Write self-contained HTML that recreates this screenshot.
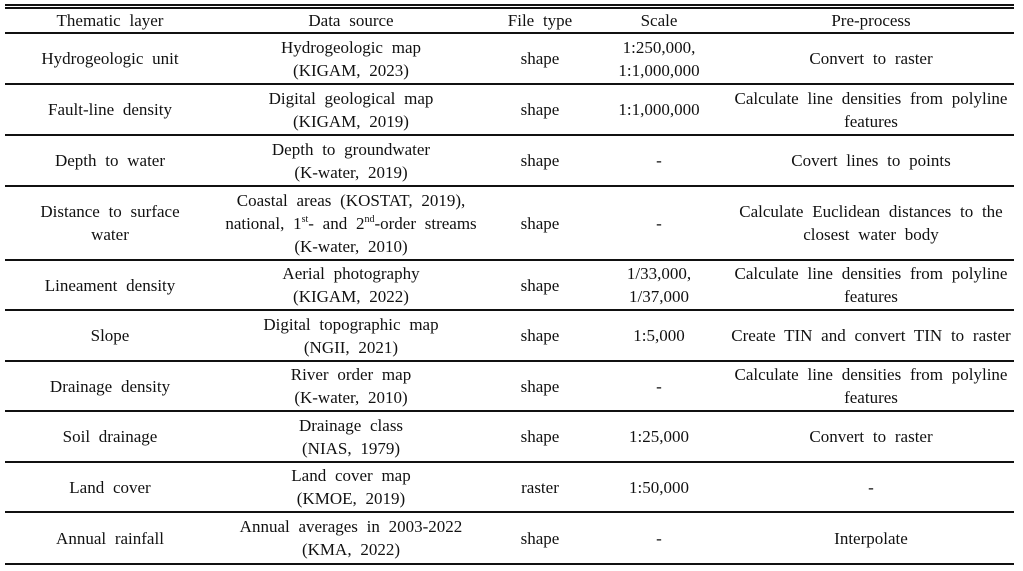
<!DOCTYPE html>
<html><head><meta charset="utf-8"><style>
body{margin:0;width:1023px;height:571px;background:#fff;position:relative;overflow:hidden;font-family:"Liberation Serif",serif;font-size:17px;color:#111;}
.l{position:absolute;left:5px;width:1009px;background:#111;}
.c{position:absolute;display:flex;align-items:center;justify-content:center;text-align:center;line-height:23px;word-spacing:4.5px;white-space:nowrap;}
sup{font-size:10px;line-height:0;vertical-align:7px;}
</style></head><body>
<div class="l" style="top:4px;height:2px"></div>
<div class="l" style="top:7px;height:2px"></div>
<div class="l" style="top:32px;height:2px"></div>
<div class="l" style="top:83px;height:2px"></div>
<div class="l" style="top:134px;height:2px"></div>
<div class="l" style="top:185px;height:2px"></div>
<div class="l" style="top:259px;height:2px"></div>
<div class="l" style="top:309px;height:2px"></div>
<div class="l" style="top:360px;height:2px"></div>
<div class="l" style="top:410px;height:2px"></div>
<div class="l" style="top:461px;height:2px"></div>
<div class="l" style="top:511px;height:2px"></div>
<div class="l" style="top:563px;height:2px"></div>
<div id="t"></div>
<script>
var cols=[[5,215],[215,487],[487,593],[593,725],[725,1017]];
var rows=[[9,32],[34,83],[85,134],[136,185],[187,259],[261,309],[311,360],[362,410],[412,461],[463,511],[513,563]];
var d=[
["Thematic layer","Data source","File type","Scale","Pre-process"],
["Hydrogeologic unit","Hydrogeologic map<br>(KIGAM, 2023)","shape","1:250,000,<br>1:1,000,000","Convert to raster"],
["Fault-line density","Digital geological map<br>(KIGAM, 2019)","shape","1:1,000,000","Calculate line densities from polyline<br>features"],
["Depth to water","Depth to groundwater<br>(K-water, 2019)","shape","-","Covert lines to points"],
["Distance to surface<br>water","Coastal areas (KOSTAT, 2019),<br>national, 1<sup>st</sup>- and 2<sup>nd</sup>-order streams<br>(K-water, 2010)","shape","-","Calculate Euclidean distances to the<br>closest water body"],
["Lineament density","Aerial photography<br>(KIGAM, 2022)","shape","1/33,000,<br>1/37,000","Calculate line densities from polyline<br>features"],
["Slope","Digital topographic map<br>(NGII, 2021)","shape","1:5,000","Create TIN and convert TIN to raster"],
["Drainage density","River order map<br>(K-water, 2010)","shape","-","Calculate line densities from polyline<br>features"],
["Soil drainage","Drainage class<br>(NIAS, 1979)","shape","1:25,000","Convert to raster"],
["Land cover","Land cover map<br>(KMOE, 2019)","raster","1:50,000","-"],
["Annual rainfall","Annual averages in 2003-2022<br>(KMA, 2022)","shape","-","Interpolate"]];
var h="";
for(var r=0;r<rows.length;r++)for(var c=0;c<5;c++){
h+='<div class="c" style="left:'+cols[c][0]+'px;width:'+(cols[c][1]-cols[c][0])+'px;top:'+rows[r][0]+'px;height:'+(rows[r][1]-rows[r][0])+'px"><div>'+d[r][c]+'</div></div>';}
document.getElementById("t").innerHTML=h;
</script>
</body></html>
